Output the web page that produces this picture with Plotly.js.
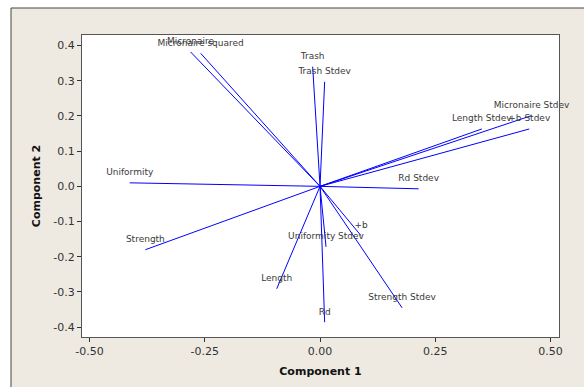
<!DOCTYPE html>
<html>
<head>
<meta charset="utf-8">
<script src="https://cdn.plot.ly/plotly-3.0.1.min.js"></script>
<style>html,body{margin:0;padding:0;background:#fff;}#chart{width:584px;height:387px;}</style>
</head>
<body>
<div id="chart"></div>
<script>
const variables = ["Micronaire","Micronaire squared","Trash","Trash Stdev","Uniformity","Strength","Length","Uniformity Stdev","Rd","+b","Strength Stdev","Rd Stdev","Length Stdev","Micronaire Stdev","+b Stdev"];
const comp1 = [-0.281,-0.259,-0.016,0.010,-0.413,-0.379,-0.094,0.013,0.010,0.089,0.178,0.214,0.351,0.459,0.454];
const comp2 = [0.382,0.378,0.340,0.297,0.010,-0.180,-0.291,-0.172,-0.386,-0.140,-0.345,-0.007,0.163,0.201,0.163];
const xTicks = [-0.50,-0.25,0.00,0.25,0.50];
const yTicks = [-0.4,-0.3,-0.2,-0.1,0.0,0.1,0.2,0.3,0.4];

const lx = [], ly = [];
for (let i = 0; i < variables.length; i++) {
  lx.push(0, comp1[i], null);
  ly.push(0, comp2[i], null);
}

const traces = [
  {x: lx, y: ly, mode: 'lines', line: {color: '#0000FF', width: 1}, hoverinfo: 'skip', showlegend: false},
  {x: comp1, y: comp2, mode: 'markers+text', text: variables, textposition: 'top center',
   marker: {size: 7, color: 'rgba(0,0,0,0)'},
   textfont: {family: 'DejaVu Sans', size: 9, color: '#3a3a3a'}, showlegend: false, cliponaxis: false}
];

const layout = {
  width: 584, height: 387,
  margin: {l: 82, r: 25, t: 35, b: 50},
  paper_bgcolor: '#ffffff',
  plot_bgcolor: 'rgba(0,0,0,0)',
  showlegend: false,
  font: {family: 'DejaVu Sans', color: '#333333'},
  xaxis: {
    range: [-0.5165, 0.5185], tickvals: xTicks, ticktext: xTicks.map(v => v.toFixed(2)),
    ticks: 'outside', ticklen: 4, tickcolor: '#333', tickfont: {size: 11, color: '#333'},
    showgrid: false, zeroline: false, showline: true, linecolor: '#555', linewidth: 1, mirror: true,
    title: {text: '<b>Component 1</b>', font: {size: 11, color: '#111'}, standoff: 10}
  },
  yaxis: {
    range: [-0.428, 0.430], tickvals: yTicks, ticktext: yTicks.map(v => v.toFixed(1)),
    ticks: 'outside', ticklen: 4, tickcolor: '#333', tickfont: {size: 11, color: '#333'},
    showgrid: false, zeroline: false, showline: true, linecolor: '#555', linewidth: 1, mirror: true,
    title: {text: '<b>Component 2</b>', font: {size: 11, color: '#111'}, standoff: 10}
  },
  shapes: [
    {type: 'rect', xref: 'paper', yref: 'paper', x0: (11-82)/477, x1: 1.2, y0: -0.3, y1: (337-8)/302,
     fillcolor: '#EEEAE1', line: {color: '#444', width: 1}, layer: 'below'},
    {type: 'rect', xref: 'paper', yref: 'paper', x0: 0, x1: 1, y0: 0, y1: 1,
     fillcolor: '#ffffff', line: {width: 0}, layer: 'below'}
  ]
};

Plotly.newPlot('chart', traces, layout, {displayModeBar: false, staticPlot: true});
</script>
</body>
</html>
